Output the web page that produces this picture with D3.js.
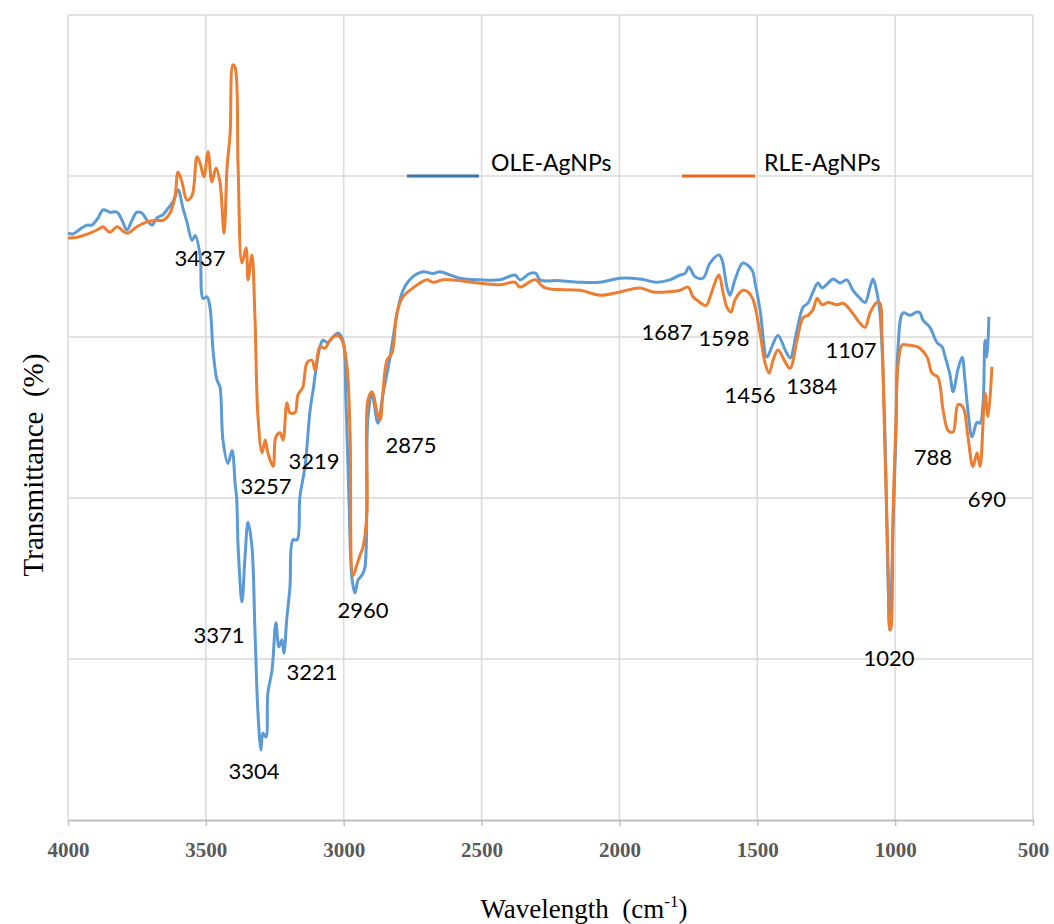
<!DOCTYPE html>
<html>
<head>
<meta charset="utf-8">
<script src="https://cdn.jsdelivr.net/npm/d3@7/dist/d3.min.js"></script>
<style>
  html, body { margin: 0; padding: 0; background: #fff; }
  svg { display: block; }
</style>
</head>
<body>
<svg id="chart" width="1054" height="924"></svg>
<script>
// ---------- DATA ----------
const xTicks = [4000, 3500, 3000, 2500, 2000, 1500, 1000, 500];
const seriesNames = ["OLE-AgNPs", "RLE-AgNPs"];

const oleWavenumber = [4000,3982,3956,3931,3913,3891,3873,3848,3822,3804,3786,3768,3750,3732,3713,3695,3677,3655,3637,3619,3601,3583,3568,3550,3539,3521,3510,3496,3485,3474,3460,3449,3438,3420,3405,3394,3388,3383,3369,3358,3347,3333,3322,3311,3300,3293,3282,3275,3260,3246,3235,3224,3217,3206,3195,3184,3169,3159,3140,3122,3111,3097,3086,3075,3057,3039,3021,3003,2992,2981,2970,2959,2948,2934,2923,2912,2897,2876,2858,2832,2807,2785,2749,2712,2676,2651,2614,2578,2506,2433,2379,2361,2324,2303,2288,2216,2143,2070,1998,1925,1864,1817,1780,1762,1748,1726,1697,1671,1639,1628,1610,1599,1581,1552,1519,1508,1490,1465,1447,1425,1399,1381,1356,1334,1316,1298,1280,1265,1243,1225,1200,1175,1153,1127,1109,1091,1080,1066,1055,1037,1026,1019,1008,997,990,971,946,921,910,899,874,848,830,819,801,790,772,757,747,736,721,703,692,681,674,667,660];
const oleT = [72.9,72.8,73.4,73.9,73.9,74.8,75.8,75.5,75.5,74.5,73.3,74.5,75.5,75.4,74.5,73.9,74.8,75.2,76.0,76.8,78.3,76.0,74.2,72.0,72.6,70.2,64.8,65.0,63.7,58.4,54.7,53.8,47.2,44.3,45.9,41.9,39.8,34.0,27.1,32.7,37.0,34.0,23.6,13.3,8.7,10.8,10.3,15.8,18.6,24.5,21.5,22.4,20.7,25.2,28.9,34.8,34.8,40.1,44.0,50.9,53.4,56.8,58.8,59.6,59.3,60.0,60.5,59.6,52.2,40.0,30.0,28.2,29.8,30.4,31.4,50.0,52.8,49.3,52.8,57.5,62.8,65.8,67.5,68.1,67.9,68.1,67.7,67.3,67.1,67.1,67.7,67.1,67.9,67.9,67.1,67.0,66.8,66.8,67.3,67.2,66.8,67.1,67.7,67.9,68.7,67.5,67.3,69.2,70.2,69.6,66.2,65.2,67.1,69.2,68.3,66.7,63.4,57.5,58.8,60.2,58.4,57.4,60.9,63.7,64.2,65.6,66.7,66.1,66.7,67.2,66.7,67.1,65.8,64.8,64.3,66.2,67.2,65.5,63.0,48.0,30.0,23.6,36.0,48.0,58.4,63.0,62.7,63.1,63.0,62.1,61.2,59.3,58.8,57.6,55.3,53.2,56.0,57.5,54.7,50.9,47.6,49.4,49.3,51.8,59.6,57.5,62.5];

const rleWavenumber = [4000,3967,3946,3920,3884,3873,3848,3822,3786,3750,3713,3677,3655,3630,3612,3601,3587,3568,3550,3532,3521,3507,3492,3478,3463,3449,3434,3423,3412,3402,3394,3383,3369,3354,3347,3333,3322,3311,3296,3285,3275,3256,3246,3231,3220,3206,3195,3177,3166,3148,3133,3115,3104,3086,3068,3050,3024,3006,2988,2977,2966,2952,2941,2930,2916,2912,2897,2879,2868,2858,2843,2825,2807,2785,2760,2723,2698,2676,2640,2614,2433,2379,2361,2306,2270,2143,2070,1998,1925,1878,1827,1780,1751,1733,1708,1686,1671,1653,1639,1624,1610,1595,1581,1552,1534,1515,1490,1472,1457,1443,1425,1399,1381,1356,1334,1316,1298,1283,1265,1243,1211,1189,1164,1127,1109,1091,1066,1055,1048,1037,1026,1019,1015,1008,997,990,975,957,921,910,884,866,845,826,808,790,772,754,736,718,703,692,674,663,649];
const rleT = [72.3,72.4,72.6,72.9,73.5,73.7,73.0,73.7,72.9,73.7,74.3,74.5,74.5,75.4,77.4,80.5,79.3,77.0,77.6,82.4,81.6,79.9,83.0,79.3,81.0,79.3,72.9,81.1,85.3,93.8,93.5,81.1,69.2,71.1,67.1,70.2,62.5,50.1,45.6,47.2,45.6,43.9,47.6,48.1,47.2,51.8,50.6,50.6,52.8,53.8,56.8,57.1,55.9,58.8,58.6,59.6,60.2,59.6,56.3,48.1,30.4,31.7,32.9,33.9,38.1,52.2,53.2,50.6,49.7,53.0,57.1,58.0,63.0,65.0,65.8,66.7,67.1,66.8,67.1,67.1,66.5,66.8,66.2,67.1,66.1,65.8,65.2,65.6,66.1,65.6,65.6,65.8,66.2,65.0,64.3,63.9,65.0,66.8,67.7,65.5,63.7,63.1,64.6,65.8,65.6,64.6,60.5,56.8,55.5,57.1,58.4,56.9,56.1,59.6,62.4,62.7,63.4,64.8,64.0,64.3,64.0,64.2,63.4,61.7,61.2,63.0,64.3,64.2,60.5,46.0,32.3,23.6,23.9,37.6,49.7,56.3,59.0,59.0,58.8,58.6,57.5,55.5,55.0,50.9,48.4,48.2,51.6,51.3,47.6,43.9,45.6,43.9,53.0,50.1,56.3];

// peak annotations: label text, and its centre in data space (wavenumber, transmittance)
const peakLabels = ["3437","3257","3219","2875","3371","3221","3304","2960","1687","1598","1456","1384","1107","1020","788","690"];
const peakLabelX = [3521,3282,3108,2756,3452,3115,3325,2930,1827,1621,1526,1302,1160,1022,863,667];
const peakLabelT = [69.9,41.5,44.7,46.6,23.0,18.4,6.2,26.1,60.7,59.9,52.8,54.0,58.5,20.2,45.2,40.0];

// ---------- LAYOUT ----------
const W = 1054, H = 924;
const margin = {left: 68, right: 21, top: 15, bottom: 104};
const iw = W - margin.left - margin.right;
const ih = H - margin.top - margin.bottom;

const svg = d3.select("#chart");
const g = svg.append("g").attr("transform", `translate(${margin.left},${margin.top})`);

const x = d3.scaleLinear().domain([4000, 500]).range([0, iw]);
const y = d3.scaleLinear().domain([0, 100]).range([ih, 0]);

// gridlines
const gridColor = "#d9d9d9";
g.append("g").selectAll("line.h").data([20, 40, 60, 80, 100]).join("line")
  .attr("x1", 0).attr("x2", iw)
  .attr("y1", d => y(d)).attr("y2", d => y(d))
  .attr("stroke", gridColor).attr("stroke-width", 1.5);
g.append("g").selectAll("line.v").data(xTicks).join("line")
  .attr("x1", d => x(d)).attr("x2", d => x(d))
  .attr("y1", 0).attr("y2", ih)
  .attr("stroke", gridColor).attr("stroke-width", 1.5);

// x axis
const xAxis = g.append("g").attr("transform", `translate(0,${ih})`)
  .call(d3.axisBottom(x).tickValues(xTicks).tickFormat(d3.format("d")).tickSizeInner(6).tickSizeOuter(0).tickPadding(16));
xAxis.select(".domain").attr("stroke", "#bfbfbf").attr("stroke-width", 2);
xAxis.selectAll(".tick line").attr("stroke", "#bfbfbf").attr("stroke-width", 1.5);
xAxis.selectAll(".tick text")
  .attr("font-family", "'Liberation Serif', 'Times New Roman', serif")
  .attr("font-weight", "bold")
  .attr("font-size", 21)
  .attr("fill", "#595959");

// lines
const colors = {ole: "#5b9bd5", rle: "#ed7d31"};
const line = d3.line().x(d => x(d[0])).y(d => y(d[1])).curve(d3.curveCatmullRom.alpha(0.5));
const oleData = oleWavenumber.map((w, i) => [w, oleT[i]]);
const rleData = rleWavenumber.map((w, i) => [w, rleT[i]]);

g.append("path").datum(oleData).attr("d", line)
  .attr("fill", "none").attr("stroke", colors.ole).attr("stroke-width", 3).attr("stroke-linejoin", "round");
g.append("path").datum(rleData).attr("d", line)
  .attr("fill", "none").attr("stroke", colors.rle).attr("stroke-width", 3).attr("stroke-linejoin", "round");

// peak labels
g.append("g").selectAll("text").data(peakLabels).join("text")
  .attr("x", (d, i) => x(peakLabelX[i]))
  .attr("y", (d, i) => y(peakLabelT[i]))
  .attr("text-anchor", "middle")
  .attr("dominant-baseline", "central")
  .attr("font-family", "Lato, 'Open Sans', sans-serif")
  .attr("font-size", 22)
  .attr("fill", "#000")
  .text(d => d);

// legend
const legend = svg.append("g");
const legendItems = [
  {name: seriesNames[0], color: "#3a73b0", x1: 407, x2: 479, tx: 491},
  {name: seriesNames[1], color: "#e9681e", x1: 682, x2: 755, tx: 764}
];
legendItems.forEach(it => {
  legend.append("line").attr("x1", it.x1).attr("x2", it.x2).attr("y1", 176).attr("y2", 176)
    .attr("stroke", it.color).attr("stroke-width", 3);
  legend.append("text").attr("x", it.tx).attr("y", 171)
    .attr("font-family", "Lato, 'Open Sans', sans-serif")
    .attr("font-size", 23).attr("fill", "#000").text(it.name);
});

// axis titles
const xt = svg.append("text")
  .attr("x", 584).attr("y", 918)
  .attr("text-anchor", "middle")
  .attr("font-family", "'Liberation Serif', 'Times New Roman', serif")
  .attr("font-size", 27).attr("fill", "#000")
  .attr("xml:space", "preserve");
xt.append("tspan").text("Wavelength  (cm");
xt.append("tspan").attr("font-size", 17).attr("dy", -11).text("-1");
xt.append("tspan").attr("dy", 11).text(")");

svg.append("text")
  .attr("transform", "translate(43,465) rotate(-90)")
  .attr("text-anchor", "middle")
  .attr("font-family", "'Liberation Serif', 'Times New Roman', serif")
  .attr("font-size", 29).attr("fill", "#000")
  .attr("xml:space", "preserve")
  .text("Transmittance  (%)");
</script>
</body>
</html>
